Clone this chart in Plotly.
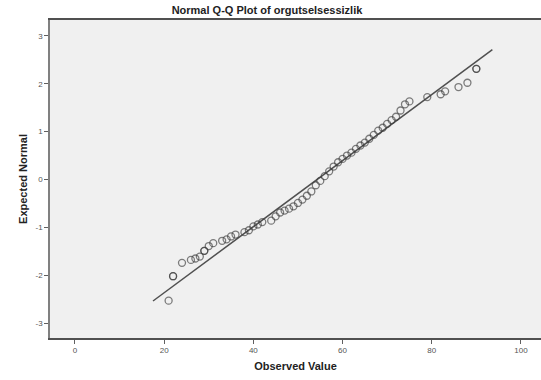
import plotly.graph_objects as go

observed = [21, 22, 22, 24, 26, 27, 28, 29, 29, 30, 31, 33, 34, 35, 36, 38, 39, 40, 41, 42,
            44, 45, 46, 47, 48, 49, 50, 51, 52, 53, 54, 55, 56, 57, 58, 59, 60, 61, 62, 63,
            64, 65, 66, 67, 68, 69, 70, 71, 72, 73, 74, 75, 79, 82, 83, 86, 88, 90, 90]
expected = [-2.53, -2.02, -2.02, -1.74, -1.68, -1.65, -1.61, -1.49, -1.49, -1.39, -1.33, -1.28,
            -1.25, -1.19, -1.15, -1.10, -1.06, -0.98, -0.94, -0.89, -0.86, -0.77, -0.69, -0.65,
            -0.61, -0.56, -0.49, -0.42, -0.34, -0.25, -0.12, -0.03, 0.07, 0.17, 0.27, 0.36,
            0.43, 0.50, 0.56, 0.64, 0.71, 0.77, 0.85, 0.93, 1.02, 1.08, 1.16, 1.24, 1.31,
            1.44, 1.57, 1.63, 1.72, 1.78, 1.84, 1.93, 2.02, 2.31, 2.31]

line_mean = 54.3
line_sd = 14.5
line_x = [17.5, 93.6]
line_y = [(v - line_mean) / line_sd for v in line_x]

x_ticks = [0, 20, 40, 60, 80, 100]
x_tick_labels = ["0", "20", "40", "60", "80", "100"]
y_ticks = [-3, -2, -1, 0, 1, 2, 3]
y_tick_labels = ["-3", "-2", "-1", "0", "1", "2", "3"]

fig = go.Figure()
fig.add_trace(go.Scatter(x=line_x, y=line_y, mode="lines",
                         line=dict(color="#505050", width=1.5), hoverinfo="skip"))
fig.add_trace(go.Scatter(x=observed, y=expected, mode="markers",
                         marker=dict(symbol="circle-open", size=7,
                                     color="rgba(60,60,60,0.65)",
                                     line=dict(width=1.3))))

font_family = "Liberation Sans, Arial, sans-serif"
fig.update_layout(
    width=541, height=380,
    margin=dict(l=50, r=0, t=20, b=42, autoexpand=False),
    paper_bgcolor="white", plot_bgcolor="#F0F0F0",
    showlegend=False,
    font=dict(family=font_family),
    title=dict(text="<b>Normal Q-Q Plot of orgutselsessizlik</b>",
               x=267 / 541, xanchor="center", y=1 - 10 / 380, yanchor="middle",
               font=dict(size=11, color="#222222"), automargin=False),
)
fig.update_xaxes(range=[-5.6, 104.5], tickvals=x_ticks, ticktext=x_tick_labels,
                 ticks="outside", ticklen=4, automargin=False,
                 tickcolor="#606060", tickfont=dict(size=8, color="#555555"),
                 showgrid=False, zeroline=False, showline=True, linecolor="#505050",
                 linewidth=1.5, mirror=True,
                 title=dict(text="<b>Observed Value</b>", font=dict(size=11, color="#222222"),
                            standoff=8))
fig.update_yaxes(range=[-3.31, 3.33], tickvals=y_ticks, ticktext=y_tick_labels,
                 ticks="outside", ticklen=4, automargin=False,
                 tickcolor="#606060", tickfont=dict(size=8, color="#555555"),
                 showgrid=False, zeroline=False, showline=True, linecolor="#808080",
                 linewidth=1.5,
                 title=dict(text="<b>Expected Normal</b>", font=dict(size=11, color="#222222"),
                            standoff=6))

fig.write_html("out.html", config={"displayModeBar": False},
               post_script="document.body.style.margin='0';document.body.style.overflow='hidden';")
